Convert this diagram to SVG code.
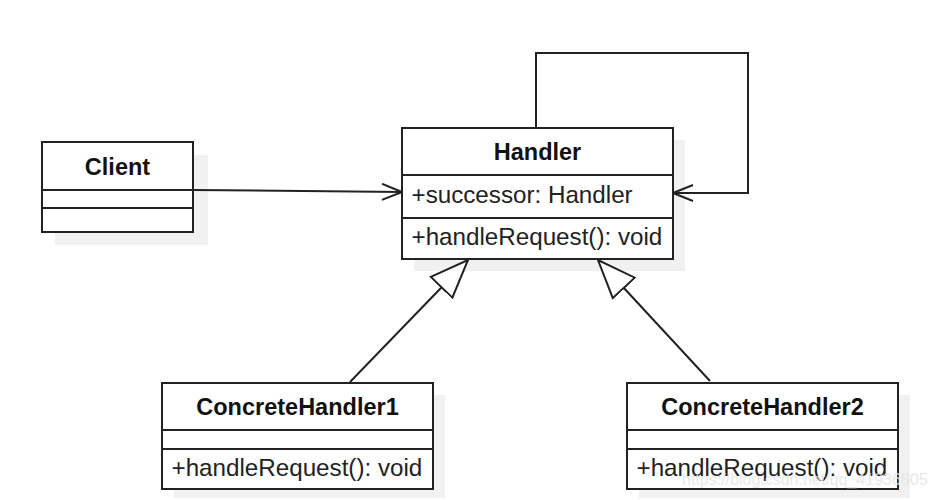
<svg xmlns="http://www.w3.org/2000/svg" width="934" height="500" viewBox="0 0 934 500">
<defs>
<style>
.box{fill:#fff;stroke:#222;stroke-width:2}
.shadow{fill:#f1f1f1}
.div{stroke:#222;stroke-width:2}
.title{font-family:"Liberation Sans",Arial,sans-serif;font-weight:bold;font-size:23.5px;fill:#111;text-anchor:middle}
.member{font-family:"Liberation Sans",Arial,sans-serif;font-size:24.2px;fill:#222}
.conn{fill:none;stroke:#222;stroke-width:2}
.wm{font-family:"Liberation Sans",Arial,sans-serif;font-size:16px;fill:#e6e6e6;opacity:0.85}
</style>
<marker id="open" viewBox="0 0 22 18" refX="21" refY="9" markerWidth="22" markerHeight="18" markerUnits="userSpaceOnUse" orient="auto">
<path d="M1,1 L21,9 L1,17" fill="none" stroke="#222" stroke-width="2"/>
</marker>
<marker id="tri" viewBox="0 0 40 34" refX="39" refY="17" markerWidth="40" markerHeight="34" markerUnits="userSpaceOnUse" orient="auto">
<path d="M1,2 L39,17 L1,32 Z" fill="#fff" stroke="#222" stroke-width="2"/>
</marker>
</defs>
<rect width="934" height="500" fill="#fff"/>

<g id="client">
<rect class="shadow" x="55" y="155" width="153" height="90"/>
<rect class="box" x="42" y="142" width="151" height="90"/>
<line class="div" x1="42" y1="190" x2="193" y2="190"/>
<line class="div" x1="42" y1="208" x2="193" y2="208"/>
<text class="title" x="117.5" y="175">Client</text>
</g>

<g id="handler">
<rect class="shadow" x="414" y="140" width="271" height="131"/>
<rect class="box" x="402" y="128" width="271" height="131"/>
<line class="div" x1="402" y1="175" x2="673" y2="175"/>
<line class="div" x1="402" y1="218" x2="673" y2="218"/>
<text class="title" x="537.5" y="160">Handler</text>
<text class="member" x="411.5" y="203">+successor: Handler</text>
<text class="member" x="411.5" y="245">+handleRequest(): void</text>
</g>

<g id="concrete1">
<rect class="shadow" x="174" y="395" width="271" height="103"/>
<rect class="box" x="162" y="383" width="271" height="106"/>
<line class="div" x1="162" y1="430" x2="433" y2="430"/>
<line class="div" x1="162" y1="449" x2="433" y2="449"/>
<text class="title" x="297.5" y="415">ConcreteHandler1</text>
<text class="member" x="171.5" y="476">+handleRequest(): void</text>
</g>

<g id="concrete2">
<rect class="shadow" x="639" y="395" width="271" height="103"/>
<rect class="box" x="627" y="383" width="271" height="106"/>
<line class="div" x1="627" y1="430" x2="898" y2="430"/>
<line class="div" x1="627" y1="449" x2="898" y2="449"/>
<text class="title" x="762.5" y="415">ConcreteHandler2</text>
<text class="member" x="636.5" y="476">+handleRequest(): void</text>
</g>

<g id="connectors">
<path class="conn" d="M193,190 L402,192" marker-end="url(#open)"/>
<path class="conn" d="M536,128 L536,53 L748,53 L748,193 L673,193" marker-end="url(#open)"/>
<path class="conn" d="M350,382 L468,260" marker-end="url(#tri)"/>
<path class="conn" d="M710,381 L598,260" marker-end="url(#tri)"/>
</g>

<text class="wm" x="682" y="485">https://blog.csdn.net/qq_41936805</text>
</svg>
